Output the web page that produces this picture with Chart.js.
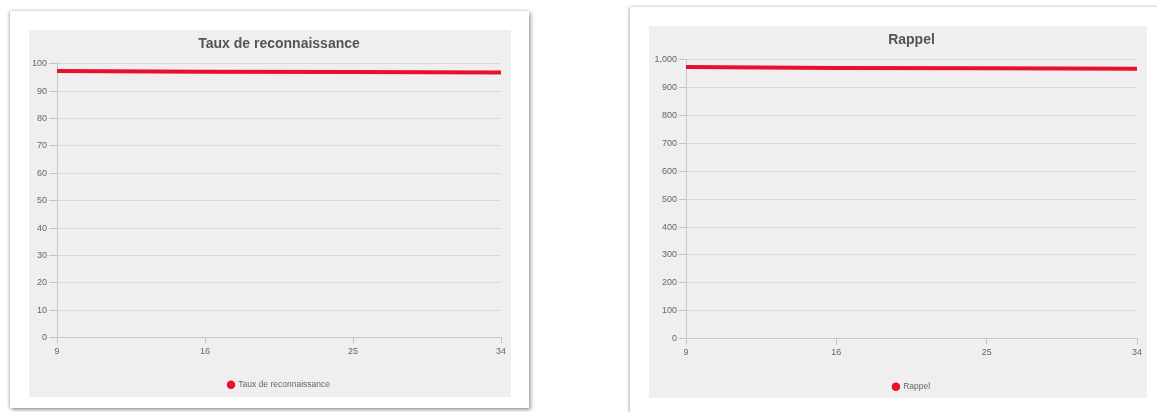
<!DOCTYPE html>
<html>
<head>
<meta charset="utf-8">
<script src="https://cdn.jsdelivr.net/npm/chart.js@4"></script>
<style>
    html, body { margin: 0; padding: 0; background: #fff; width: 1157px; height: 412px; overflow: hidden; }
    .card { position: absolute; background: #fff; box-shadow: 2px 2px 4px rgba(0,0,0,0.35), -1px 0 3px rgba(0,0,0,0.25); }
    .panel { position: absolute; background: #efefef; }
    .wrap { position: absolute; }
</style>
</head>
<body>
<div class="card" style="left:10px; top:11px; width:519px; height:397px;"></div>
<div class="card" style="left:630px; top:7px; width:560px; height:420px;"></div>
<div class="panel" style="left:29px; top:30px; width:482px; height:367px;"></div>
<div class="panel" style="left:649px; top:26px; width:498px; height:372px;"></div>
<div class="wrap" style="left:29px; top:30px; width:482px; height:369px;"><canvas id="tauxChart"></canvas></div>
<div class="wrap" style="left:649px; top:26px; width:498px; height:375px;"><canvas id="rappelChart"></canvas></div>

<script>
// x categories (same for both charts)
const epochs = ['9', '16', '25', '34'];

// Taux de reconnaissance (%)
const tauxValues = [97.4, 97.1, 97.0, 96.8];
const tauxTicks = { min: 0, max: 100, step: 10 };

// Rappel
const rappelValues = [974, 971, 970, 968];
const rappelTicks = { min: 0, max: 1000, step: 100 };

const lineRed = '#e8102a';
const fontFamily = 'Liberation Sans, Arial, sans-serif';

// centre title and legend over the plot area instead of the whole canvas
const centerOnPlot = {
    id: 'centerOnPlot',
    afterLayout(chart) {
        const area = chart.chartArea;
        [chart.titleBlock, chart.legend].forEach(box => {
            if (!box) return;
            box.left = area.left;
            box.right = area.right;
        });
    }
};

function buildChart(canvasId, title, values, ticks, yWidth, tickLen, xHeight) {
    const ctx = document.getElementById(canvasId);
    return new Chart(ctx.getContext('2d'), {
        type: 'line',
        data: {
            labels: epochs,
            datasets: [{
                label: title,
                data: values,
                borderColor: lineRed,
                backgroundColor: lineRed,
                borderWidth: 4,
                pointRadius: 0,
                tension: 0,
                fill: false
            }]
        },
        plugins: [centerOnPlot],
        options: {
            responsive: true,
            maintainAspectRatio: false,
            animation: false,
            locale: 'en-US',
            layout: { padding: { left: 0, right: 10, top: 0, bottom: 0 } },
            scales: {
                x: {
                    grid: { display: true, drawOnChartArea: false, tickLength: 6, tickColor: '#c4c4c4' },
                    border: { color: '#c8c8c8' },
                    ticks: { color: '#666', padding: 3, autoSkip: false, maxRotation: 0, font: { family: fontFamily, size: 9 } },
                    afterFit: function(scale) { scale.height = xHeight; }
                },
                y: {
                    min: ticks.min,
                    max: ticks.max,
                    grid: { color: '#dadada', tickLength: tickLen, tickColor: '#c4c4c4' },
                    border: { color: '#c8c8c8' },
                    ticks: { stepSize: ticks.step, color: '#666', padding: 2, font: { family: fontFamily, size: 9 } },
                    afterFit: function(scale) { scale.width = yWidth; }
                }
            },
            plugins: {
                title: {
                    display: true,
                    text: title,
                    color: '#555',
                    font: { family: fontFamily, size: 14, weight: 'bold' },
                    padding: { top: 6, bottom: 11 }
                },
                legend: {
                    position: 'bottom',
                    labels: {
                        usePointStyle: true,
                        pointStyle: 'circle',
                        boxWidth: 6,
                        boxHeight: 6,
                        padding: 5,
                        color: '#666',
                        font: { family: fontFamily, size: 8.5 },
                        // no outline on the legend dot
                        generateLabels: function(chart) {
                            return Chart.defaults.plugins.legend.labels.generateLabels(chart)
                                .map(l => Object.assign(l, { lineWidth: 0 }));
                        }
                    }
                },
                tooltip: { enabled: false }
            }
        }
    });
}

buildChart('tauxChart', 'Taux de reconnaissance', tauxValues, tauxTicks, 28, 8, 38);
buildChart('rappelChart', 'Rappel', rappelValues, rappelTicks, 37, 7, 39);
</script>
</body>
</html>
